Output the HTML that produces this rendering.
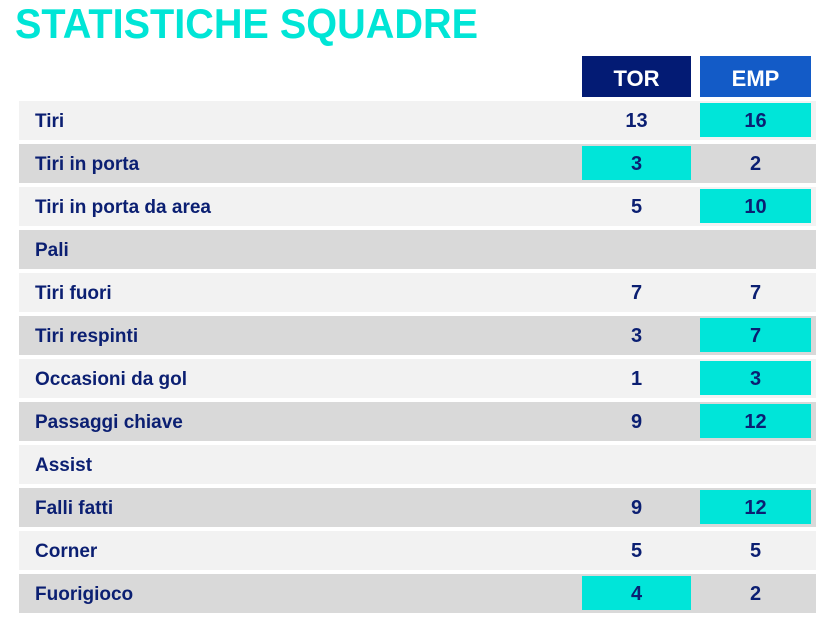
<!DOCTYPE html>
<html><head><meta charset="utf-8"><style>
body{margin:0;background:#fff;width:822px;height:613px;overflow:hidden;font-family:"Liberation Sans",sans-serif}
</style></head><body>
<svg width="822" height="613">
<text x="15" y="38" font-size="42" font-weight="bold" fill="#00e5d6" textLength="463" lengthAdjust="spacingAndGlyphs">STATISTICHE SQUADRE</text>
<rect x="582" y="56" width="109" height="41" fill="#031b74"/>
<text x="636.5" y="86" font-size="22" font-weight="bold" fill="#fff" text-anchor="middle">TOR</text>
<rect x="700" y="56" width="111" height="41" fill="#135bc7"/>
<text x="755.5" y="86" font-size="22" font-weight="bold" fill="#fff" text-anchor="middle">EMP</text>
<g id="rows"></g>
</svg>
<script>
const labels=["Tiri","Tiri in porta","Tiri in porta da area","Pali","Tiri fuori","Tiri respinti","Occasioni da gol","Passaggi chiave","Assist","Falli fatti","Corner","Fuorigioco"];
const torValues=["13","3","5","","7","3","1","9","","9","5","4"];
const empValues=["16","2","10","","7","7","3","12","","12","5","2"];
const g=document.getElementById('rows');
const NS="http://www.w3.org/2000/svg";
function mk(t,a){const e=document.createElementNS(NS,t);for(const k in a)e.setAttribute(k,a[k]);g.appendChild(e);return e;}
labels.forEach((lab,i)=>{
  const y=101+i*43;
  const bg=mk('rect',{x:19,y:y,width:797,height:39,fill:i%2?'#d9d9d9':'#f2f2f2'});
  
  
  const t=mk('text',{x:35,y:y+26,'font-size':19,'font-weight':'bold',fill:'#0b1f72'});
  t.textContent=lab;
  
  
  const a=parseFloat(torValues[i]),b=parseFloat(empValues[i]);
  [[torValues[i],582,109,a>b],[empValues[i],700,111,b>a]].forEach(([v,x,w,hi])=>{
    if(hi){const r=mk('rect',{x:x,y:y+2,width:w,height:34,fill:'#00e5d9'});
      
      }
    if(v!==""){const n=mk('text',{x:x+w/2,y:y+26,'font-size':20,'font-weight':'bold',fill:'#0b1f72','text-anchor':'middle'});
      n.textContent=v;
      
      }
  });
});
</script>
</body></html>
